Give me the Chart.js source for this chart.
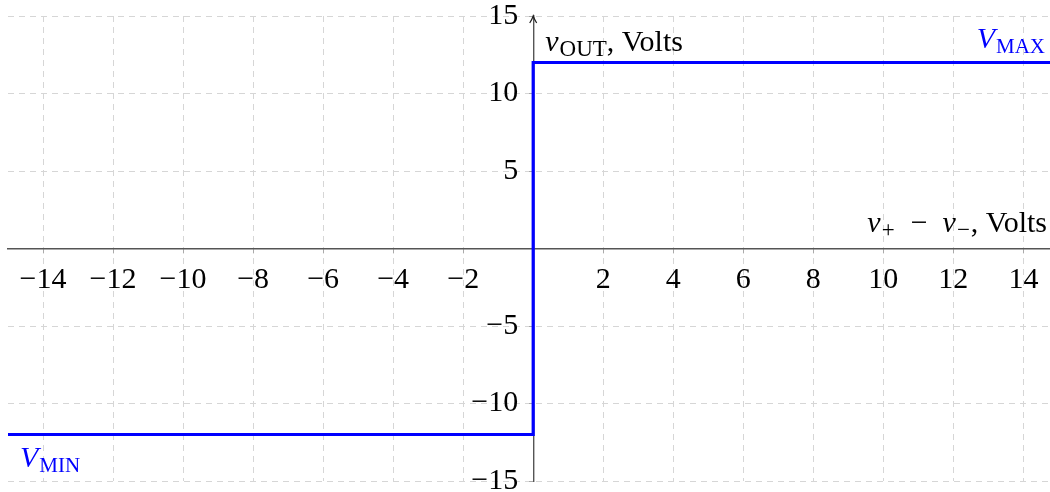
<!DOCTYPE html>
<html>
<head>
<meta charset="utf-8">
<script src="https://cdn.jsdelivr.net/npm/chart.js@4.4.1/dist/chart.umd.min.js"></script>
<style>
  html, body { margin: 0; padding: 0; background: #fff; }
  #wrap { width: 1050px; height: 492px; position: relative; }
</style>
</head>
<body>
<div id="wrap"><canvas id="chart"></canvas></div>
<script>
// comparator transfer curve: v_out vs (v+ - v-)
const curveX = [-15, 0, 0, 15];
const curveY = [-12, -12, 12, 12];
const xTicks = [-14, -12, -10, -8, -6, -4, -2, 2, 4, 6, 8, 10, 12, 14];
const yTicks = [-15, -10, -5, 5, 10, 15];
const xGrid = [-14, -12, -10, -8, -6, -4, -2, 0, 2, 4, 6, 8, 10, 12, 14];
const yGrid = [-15, -10, -5, 0, 5, 10, 15];

const TICK_FONT = { family: "'Liberation Serif', serif", size: 30 };
const BLUE = "#0000ff";
const AXIS = "#555555";

function fmt(v) {
  return v < 0 ? "\u2212" + Math.abs(v) : String(v);
}

// draws text with a subscript, returns end x
function subText(ctx, x, y, main, sub, mainFont, subFont, align) {
  ctx.font = mainFont;
  const w1 = ctx.measureText(main).width;
  ctx.font = subFont;
  const w2 = ctx.measureText(sub).width;
  let start = align === "right" ? x - w1 - w2 - 1 : x;
  ctx.textAlign = "left";
  ctx.font = mainFont;
  ctx.fillText(main, start, y);
  ctx.font = subFont;
  ctx.fillText(sub, start + w1 + 1, y + 5);
  return start + w1 + w2 + 1;
}

const labelsPlugin = {
  id: "axisLabels",
  afterDraw(chart) {
    const { ctx, chartArea } = chart;
    const xs = chart.scales.x, ys = chart.scales.y;
    const x0 = xs.getPixelForValue(0);
    const yTop = ys.getPixelForValue(15);
    ctx.save();

    // arrow head on the y axis
    ctx.strokeStyle = "#222";
    ctx.lineWidth = 1.2;
    ctx.beginPath();
    ctx.moveTo(x0 - 3.5, yTop + 7);
    ctx.quadraticCurveTo(x0 - 1, yTop + 3, x0, yTop);
    ctx.quadraticCurveTo(x0 + 1, yTop + 3, x0 + 3.5, yTop + 7);
    ctx.stroke();

    ctx.textBaseline = "alphabetic";
    const it = "italic 30px 'Liberation Serif', serif";
    const sc = "23px 'Liberation Serif', serif";
    const rm = "30px 'Liberation Serif', serif";

    // y axis label
    ctx.fillStyle = "#000";
    const yv = ys.getPixelForValue(12.75);
    let end = subText(ctx, x0 + 12, yv, "v", "OUT", it, sc, "left");
    ctx.font = rm;
    ctx.fillText(", Volts", end, yv);

    // x axis label, laid out right to left
    const yl = ys.getPixelForValue(1.05);
    ctx.textAlign = "left";
    const parts = [
      ["v", it, 0], ["+", sc, 5], ["\u2002\u2212\u2002", rm, 0],
      ["v", it, 0], ["\u2212", sc, 5], [", Volts", rm, 0]
    ];
    let rx = chartArea.right - 3;
    for (let i = parts.length - 1; i >= 0; i--) {
      const [t, f, dy] = parts[i];
      ctx.font = f;
      rx -= ctx.measureText(t).width + (dy ? 2 : 0);
      ctx.fillText(t, rx + (dy ? 1 : 0), yl + dy);
    }

    // saturation labels
    ctx.fillStyle = BLUE;
    const itV = "italic 30px 'Liberation Serif', serif";
    const scV = "21px 'Liberation Serif', serif";
    subText(ctx, chartArea.right - 5, ys.getPixelForValue(12.95), "V", "MAX", itV, scV, "right");
    subText(ctx, chartArea.left + 12, ys.getPixelForValue(-14.1), "V", "MIN", itV, scV, "left");
    ctx.restore();
  }
};

new Chart(document.getElementById("chart"), {
  type: "scatter",
  data: {
    datasets: [{
      data: curveX.map((x, i) => ({ x, y: curveY[i] })),
      showLine: true,
      borderColor: BLUE,
      borderWidth: 3.2,
      pointRadius: 0,
      fill: false,
      tension: 0
    }]
  },
  options: {
    responsive: true,
    maintainAspectRatio: false,
    animation: false,
    layout: { autoPadding: false, padding: { left: 8, right: 0, top: 16, bottom: 11 } },
    plugins: { legend: { display: false }, tooltip: { enabled: false } },
    scales: {
      x: {
        type: "linear",
        min: -15,
        max: 14.76,
        position: { y: 0 },
        afterBuildTicks: s => { s.ticks = xGrid.map(v => ({ value: v })); },
        ticks: {
          color: "#000",
          font: TICK_FONT,
          padding: 10,
          autoSkip: false,
          maxRotation: 0,
          callback: v => (xTicks.includes(v) ? fmt(v) : "")
        },
        grid: { color: "#d6d6d6", lineWidth: 1, tickColor: "#aaaaaa", tickLength: 4 },
        border: { display: true, color: AXIS, width: 1.4, dash: [6, 5] }
      },
      y: {
        type: "linear",
        min: -15,
        max: 15,
        position: { x: 0 },
        afterBuildTicks: s => { s.ticks = yGrid.map(v => ({ value: v })); },
        ticks: {
          color: "#000",
          // small line height so the end labels don't shrink the plot
          font: { ...TICK_FONT, lineHeight: 0.4 },
          autoSkip: false,
          // en space keeps the label clear of the centred axis
          callback: v => (yTicks.includes(v) ? fmt(v) + "\u2002" : "")
        },
        grid: { color: "#d6d6d6", lineWidth: 1, tickColor: "#aaaaaa", tickLength: 4 },
        border: { display: true, color: AXIS, width: 1.4, dash: [6, 5] }
      }
    }
  },
  plugins: [labelsPlugin]
});
</script>
</body>
</html>
